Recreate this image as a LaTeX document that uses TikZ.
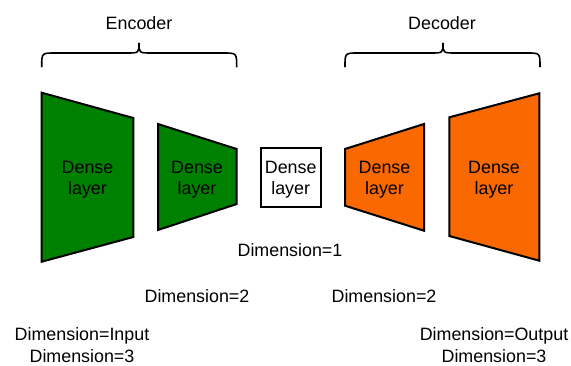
\documentclass[tikz,border=0pt]{standalone}
\usepackage{fontspec}
\setmainfont{Liberation Sans}
\definecolor{encgreen}{HTML}{008000}
\definecolor{decorange}{HTML}{FA6800}
\begin{document}
\begin{tikzpicture}[x=0.75pt,y=-0.75pt,
  layerbox/.style={draw=black,line width=1.5pt,line join=miter},
  lbl/.style={font=\fontsize{13.4}{16}\selectfont,align=center,inner sep=0pt},
  bracepath/.style={draw=black,line width=1.2pt,line cap=round}]
\useasboundingbox (0,0) rectangle (571,365);

% encoder layers
\draw[layerbox,fill=encgreen] (41.7,92.7) -- (133.3,118) -- (133.3,237) -- (41.7,261.7) -- cycle;
\draw[layerbox,fill=encgreen] (158,124) -- (236.7,149) -- (236.7,204) -- (158,230) -- cycle;
% bottleneck
\node[layerbox,fill=white,minimum width=45pt,minimum height=44pt] (mid) at (290.7,177.3) {};
% decoder layers
\draw[layerbox,fill=decorange] (345,149) -- (424,124) -- (424,230.7) -- (345,205.7) -- cycle;
\draw[layerbox,fill=decorange] (449.3,117.3) -- (539.3,93.3) -- (539.3,260.7) -- (449.3,236) -- cycle;

\node[lbl] (e1) at (87.5,180) {Dense\\layer};
\node[lbl] (e2) at (197,180) {Dense\\layer};
\node[lbl] (m) at (290.7,180) {Dense\\layer};
\node[lbl] (d1) at (384.5,180) {Dense\\layer};
\node[lbl] (d2) at (494,180) {Dense\\layer};

% braces
\draw[bracepath] (41.7,66.7) .. controls (41.7,53) .. (55,53) -- (126,53)
  .. controls (139,53) .. (139,43) .. controls (139,53) .. (152,53) -- (223,53)
  .. controls (236.7,53) .. (236.7,66.7);
\draw[bracepath] (345,66.7) .. controls (345,53) .. (358,53) -- (430,53)
  .. controls (443,53) .. (443,43) .. controls (443,53) .. (456,53) -- (527,53)
  .. controls (540,53) .. (540,66.7);
\node[lbl] (enc) at (139,23) {Encoder};
\node[lbl] (dec) at (442,23) {Decoder};

% dimensions
\node[lbl] (dim1) at (290,250) {Dimension=1};
\node[lbl] (dim2a) at (197,296) {Dimension=2};
\node[lbl] (dim2b) at (384,296) {Dimension=2};
\node[lbl] (dimin) at (82,345) {Dimension=Input\\Dimension=3};
\node[lbl] (dimout) at (494,345) {Dimension=Output\\Dimension=3};
\end{tikzpicture}
\end{document}
